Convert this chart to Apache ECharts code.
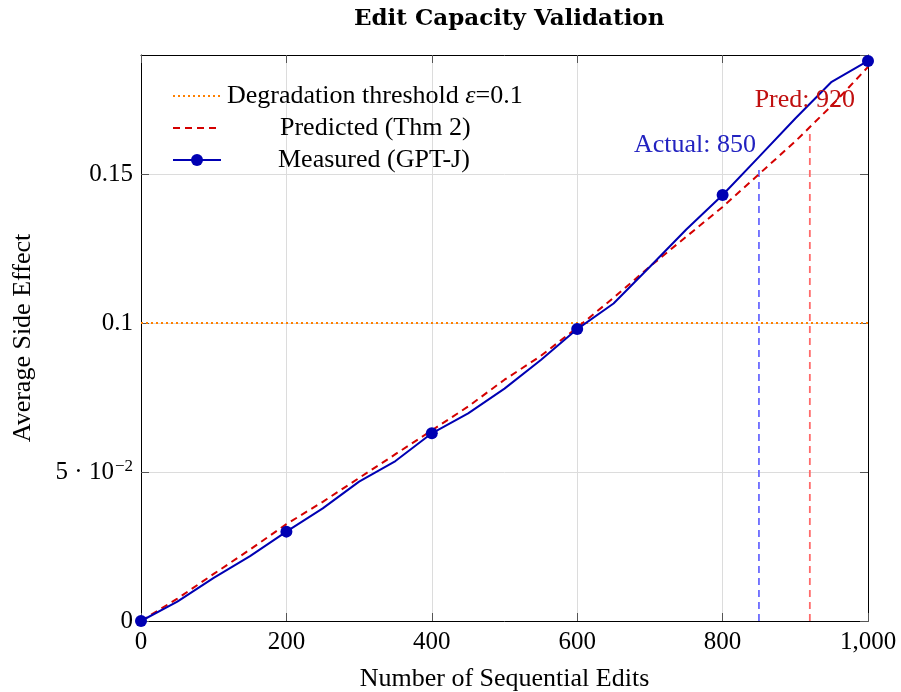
<!DOCTYPE html>
<html>
<head>
<meta charset="utf-8">
<title>Edit Capacity Validation</title>
<script src="https://cdn.jsdelivr.net/npm/echarts@6/dist/echarts.min.js"></script>
</head>
<body style="margin:0;background:#fff">
<div id="chart" style="width:901px;height:692px"></div>
<script type="text/javascript">
// values
var edits     = [0, 50, 100, 150, 200, 250, 300, 350, 400, 450, 500, 550, 600, 650, 700, 750, 800, 850, 900, 950, 1000];
var predicted = [0, 0.0075, 0.0158, 0.024, 0.0325, 0.040, 0.048, 0.056, 0.064, 0.072, 0.081, 0.089, 0.0985, 0.1085, 0.119, 0.129, 0.139, 0.150, 0.161, 0.173, 0.186];
var measured  = [0, 0.0065, 0.0145, 0.0218, 0.030, 0.0378, 0.0468, 0.0537, 0.063, 0.0697, 0.078, 0.0876, 0.098, 0.1066, 0.1189, 0.1314, 0.143, 0.1558, 0.1687, 0.181, 0.188];
var markerEvery = 200;
var threshold = 0.1;
var capActual = [850, 0.152];
var capPred   = [920, 0.165];
var xTickLabels = ['0', '200', '400', '600', '800', '1,000'];
var yTickLabels = ['0', '{m|5 · 10}{e|−2}', '0.1', '0.15'];

var serif = 'Liberation Serif';
var names = ['Degradation threshold ε=0.1', 'Predicted (Thm 2)', 'Measured (GPT-J)'];

function pairs(xs, ys) {
  var out = [];
  for (var i = 0; i < xs.length; i++) out.push([xs[i], ys[i]]);
  return out;
}

// one legend per entry so the text can sit where the original puts it
function legendAt(name, top, padLeft, hideSymbol) {
  var lg = {
    data: [name],
    left: 167, top: top,
    itemWidth: 48, itemHeight: 15,
    selectedMode: false,
    formatter: function (n) {
      return n.replace('ε', '{i|ε}');
    },
    textStyle: {
      fontFamily: serif, fontSize: 26, color: '#000',
      padding: [0, 0, 0, padLeft],
      rich: { i: { fontFamily: serif, fontSize: 26, fontStyle: 'italic', color: '#000' } }
    }
  };
  if (hideSymbol) lg.itemStyle = { opacity: 0 };
  return lg;
}

var myChart = echarts.init(document.getElementById('chart'));

var axisCommon = {
  axisLine: { show: true, onZero: false, lineStyle: { color: '#000', width: 1 } },
  axisTick: { show: true, inside: true, length: 8, lineStyle: { color: '#555' } }
};

myChart.setOption({
  animation: false,
  backgroundColor: '#fff',
  title: {
    text: 'Edit Capacity Validation',
    left: 349, top: 3,
    textStyle: { fontFamily: 'DejaVu Serif', fontWeight: 'bold', fontSize: 23, color: '#000' }
  },
  grid: { left: 141, right: 33, top: 55, bottom: 71, outerBoundsMode: 'none' },
  legend: [
    legendAt(names[0], 78, 1, true),
    legendAt(names[1], 110, 54, true),
    legendAt(names[2], 142, 52, false)
  ],
  xAxis: [
    Object.assign({
      type: 'value', min: 0, max: 1000, interval: 200,
      name: 'Number of Sequential Edits', nameLocation: 'middle', nameGap: 45,
      nameTextStyle: { fontFamily: serif, fontSize: 26, color: '#000' },
      axisLabel: {
        fontFamily: serif, fontSize: 25, color: '#000', margin: 9,
        formatter: function (v) { return xTickLabels[Math.round(v / 200)]; }
      },
      splitLine: { show: true, lineStyle: { color: '#dcdcdc', width: 1 } }
    }, axisCommon),
    Object.assign({
      type: 'value', min: 0, max: 1000, interval: 200, position: 'top',
      axisLabel: { show: false }, splitLine: { show: false }
    }, axisCommon)
  ],
  yAxis: [
    Object.assign({
      type: 'value', min: 0, max: 0.19, interval: 0.05,
      name: 'Average Side Effect', nameLocation: 'middle', nameGap: 105,
      nameTextStyle: { fontFamily: serif, fontSize: 26, color: '#000' },
      axisLabel: {
        fontFamily: serif, fontSize: 25, color: '#000', margin: 8, showMaxLabel: false,
        formatter: function (v) {
          var k = Math.round(v / 0.05);
          return Math.abs(v - k * 0.05) < 1e-9 ? (yTickLabels[k] || '') : '';
        },
        rich: {
          m: { fontFamily: serif, fontSize: 25, color: '#000' },
          e: { fontFamily: serif, fontSize: 17, color: '#000', padding: [0, 0, 12, 1] }
        }
      },
      splitLine: { show: true, lineStyle: { color: '#dcdcdc', width: 1 } }
    }, axisCommon),
    Object.assign({
      type: 'value', min: 0, max: 0.19, interval: 0.05, position: 'right',
      axisLabel: { show: false }, splitLine: { show: false }
    }, axisCommon)
  ],
  series: [
    {
      name: names[0], type: 'line', symbol: 'none', z: 2,
      data: [[0, threshold], [1000, threshold]],
      lineStyle: { color: '#ff8000', width: 2, type: [2, 3] },
      itemStyle: { color: '#ff8000' }
    },
    {
      name: 'capActual', type: 'line', symbol: 'none', z: 2,
      data: [[capActual[0], 0], capActual],
      lineStyle: { color: '#6b6bff', width: 1.8, type: [7, 5] }
    },
    {
      name: 'capPred', type: 'line', symbol: 'none', z: 2,
      data: [[capPred[0], 0], capPred],
      lineStyle: { color: '#ff6b6b', width: 1.8, type: [7, 5] }
    },
    {
      name: names[1], type: 'line', symbol: 'none', z: 3,
      data: pairs(edits, predicted),
      lineStyle: { color: '#d40000', width: 2, type: [7, 5] },
      itemStyle: { color: '#d40000' }
    },
    {
      name: names[2], type: 'line', symbol: 'circle', z: 4,
      symbolSize: function (v) { return v[0] % markerEvery === 0 ? 12 : 0; },
      data: pairs(edits, measured),
      lineStyle: { color: '#0000b3', width: 2 },
      itemStyle: { color: '#0000b3' }
    },
    {
      name: 'notes', type: 'scatter', symbolSize: 0, z: 5,
      itemStyle: { opacity: 1 },
      label: { show: true, position: 'inside', fontFamily: serif, fontSize: 26 },
      data: [
        { value: capActual, label: { formatter: 'Actual: 850', color: '#2323c0', offset: [-64, -23] } },
        { value: capPred, label: { formatter: 'Pred: 920', color: '#c00f0f', offset: [-5, -29] } }
      ]
    }
  ]
});
</script>
</body>
</html>
